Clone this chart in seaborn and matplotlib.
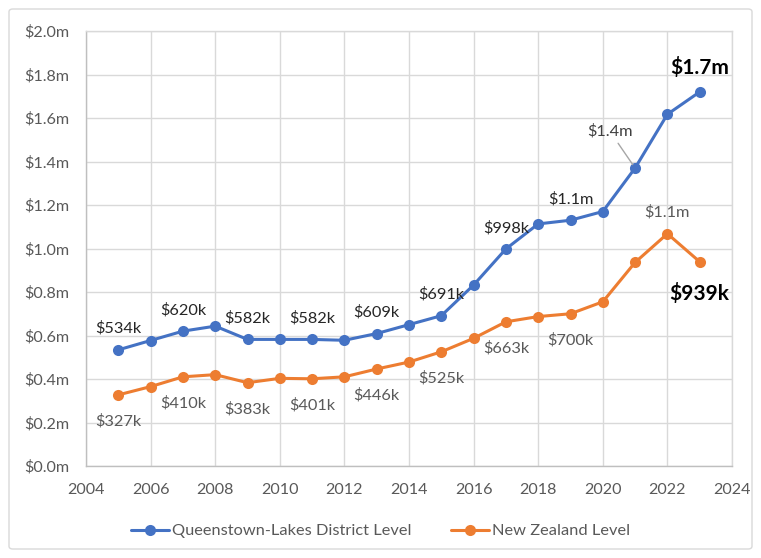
import matplotlib
matplotlib.use("Agg")
import matplotlib.pyplot as plt
import seaborn as sns
import pandas as pd
from matplotlib.patches import FancyBboxPatch

years = list(range(2005, 2024))
ql_values = [0.534, 0.577, 0.620, 0.643, 0.582, 0.582, 0.582, 0.578, 0.609, 0.650,
             0.691, 0.832, 0.998, 1.113, 1.130, 1.170, 1.370, 1.617, 1.720]
nz_values = [0.327, 0.365, 0.410, 0.420, 0.383, 0.403, 0.401, 0.410, 0.446, 0.478,
             0.525, 0.587, 0.663, 0.687, 0.700, 0.755, 0.936, 1.068, 0.939]
series_names = ["Queenstown-Lakes District Level", "New Zealand Level"]
y_ticks = [0.0, 0.2, 0.4, 0.6, 0.8, 1.0, 1.2, 1.4, 1.6, 1.8, 2.0]
x_ticks = list(range(2004, 2025, 2))

ql_label_years = [2005, 2007, 2009, 2011, 2013, 2015, 2017, 2019, 2021, 2023]
ql_label_texts = ["$534k", "$620k", "$582k", "$582k", "$609k", "$691k", "$998k", "$1.1m", "$1.4m", "$1.7m"]
nz_label_years = [2005, 2007, 2009, 2011, 2013, 2015, 2017, 2019, 2022, 2023]
nz_label_texts = ["$327k", "$410k", "$383k", "$401k", "$446k", "$525k", "$663k", "$700k", "$1.1m", "$939k"]

sns.set_theme(style="white")
plt.rcParams['font.family'] = ['Lato', 'DejaVu Sans']

df = pd.DataFrame({
    "year": years * 2,
    "value": ql_values + nz_values,
    "series": [series_names[0]] * len(years) + [series_names[1]] * len(years),
})

blue = "#4472C4"
orange = "#ED7D31"
FS = 11.8

fig = plt.figure(figsize=(7.61, 5.58), dpi=100)
ax = fig.add_axes([86/761, 1 - 466/558, (732-86)/761, (466-31)/558])

sns.lineplot(data=df, x="year", y="value", hue="series", palette=[blue, orange],
             marker="o", markersize=8, markeredgewidth=0, linewidth=2.2, ax=ax,
             legend=True)

ax.set_xlim(2004, 2024)
ax.set_ylim(0, 2.0)
ax.set_xticks(x_ticks)
ax.set_yticks(y_ticks)
ax.set_yticklabels([f"${v:.1f}m" for v in y_ticks])
ax.set_xlabel("")
ax.set_ylabel("")
ax.grid(True, color="#D9D9D9", linewidth=1)
ax.set_axisbelow(True)
for s in ax.spines.values():
    s.set_color("#D9D9D9")
    s.set_linewidth(1)
ax.spines['left'].set_color("#BFBFBF")
ax.spines['bottom'].set_color("#BFBFBF")
ax.tick_params(axis="both", colors="#595959", labelsize=11.6, length=0)
ax.tick_params(axis="y", pad=12)
ax.tick_params(axis="x", pad=12)

ql_map = dict(zip(years, ql_values))
nz_map = dict(zip(years, nz_values))

for yr, txt in zip(ql_label_years, ql_label_texts):
    y = ql_map[yr]
    if yr == 2023:
        ax.annotate(txt, (yr, y), xytext=(0, 10), textcoords="offset points",
                    ha="center", va="bottom", fontsize=15, fontweight="bold", color="#000000")
    elif yr == 2021:
        ax.annotate(txt, (yr, y), xytext=(-18, 21), textcoords="offset points",
                    ha="center", va="bottom", fontsize=FS, color="#404040",
                    arrowprops=dict(arrowstyle="-", color="#A6A6A6", lw=1,
                                    shrinkA=1, shrinkB=3))
    else:
        ax.annotate(txt, (yr, y), xytext=(0, 10), textcoords="offset points",
                    ha="center", va="bottom", fontsize=FS, color="#262626")

for yr, txt in zip(nz_label_years, nz_label_texts):
    y = nz_map[yr]
    if yr == 2023:
        ax.annotate(txt, (yr, y), xytext=(0, -15), textcoords="offset points",
                    ha="center", va="top", fontsize=15, fontweight="bold", color="#000000")
    elif yr == 2022:
        ax.annotate(txt, (yr, y), xytext=(0, 10), textcoords="offset points",
                    ha="center", va="bottom", fontsize=FS, color="#595959")
    else:
        ax.annotate(txt, (yr, y), xytext=(0, -14), textcoords="offset points",
                    ha="center", va="top", fontsize=FS, color="#595959")

handles, labels = ax.get_legend_handles_labels()
leg = fig.legend(handles, labels, loc="center", bbox_to_anchor=(0.5, 1 - 531/558),
                 ncol=2, frameon=False, fontsize=FS, handlelength=2.3,
                 columnspacing=2.4, handletextpad=0.2)
for t in leg.get_texts():
    t.set_color("#595959")
ax.get_legend().remove()

border = FancyBboxPatch((9/761, 9/558), (752-9)/761, (549-9)/558,
                        boxstyle="round,pad=0,rounding_size=0.005",
                        transform=fig.transFigure, fill=False,
                        edgecolor="#D9D9D9", linewidth=1)
fig.patches.append(border)

fig.savefig("out.png", dpi=100, facecolor="white")
